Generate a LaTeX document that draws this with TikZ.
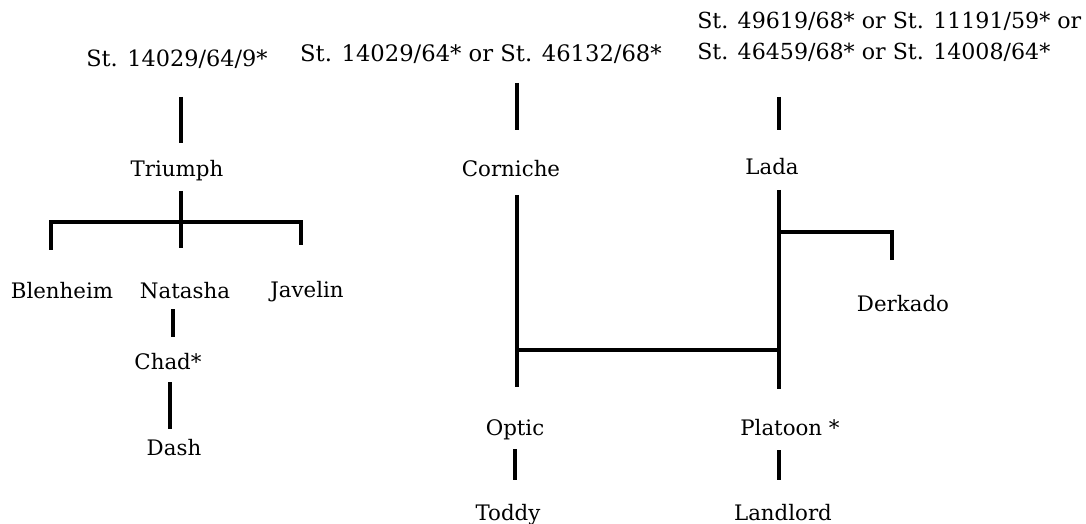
\documentclass[tikz,border=0pt]{standalone}
\usepackage{fontspec}
\setmainfont{DejaVu Serif}
\usetikzlibrary{calc}

\begin{document}
\begin{tikzpicture}[x=0.75pt, y=-0.75pt,
    bar/.style={line width=3.3pt},
    horse/.style={inner sep=0pt, anchor=base, font=\fontsize{16}{19}\selectfont},
    stud/.style={inner sep=0pt, anchor=base, font=\fontsize{16.8}{20}\selectfont}]
  \useasboundingbox (0,0) rectangle (1086,524);

  % Coordinates
  \coordinate (A) at (181, 97);
  \coordinate (B) at (181,143);
  \coordinate (C) at (181,191);
  \coordinate (D) at (181,248);
  \coordinate (E) at ( 51,250);
  \coordinate (F) at ( 51,222);
  \coordinate (G) at (301,222);
  \coordinate (H) at (301,245);
  \coordinate (I) at (173,309);
  \coordinate (J) at (173,337);
  \coordinate (K) at (170,382);
  \coordinate (L) at (170,429);
  \coordinate (M) at (517, 83);
  \coordinate (N) at (517,130);
  \coordinate (O) at (517,195);
  \coordinate (P) at (517,387);
  \coordinate (Q) at (517,350);
  \coordinate (R) at (779,350);
  \coordinate (S) at (515,449);
  \coordinate (T) at (515,480);
  \coordinate (U) at (779, 97);
  \coordinate (V) at (779,130);
  \coordinate (W) at (779,190);
  \coordinate (X) at (779,389);
  \coordinate (Y) at (779,232);
  \coordinate (Z) at (892,232);
  \coordinate (Z2) at (892,260);
  \coordinate (Z3) at (779,450);
  \coordinate (Z4) at (779,480);

  % Labels
  \node[stud] (st1) at (177,67) {St. 14029/64/9*};
  \node[stud, font=\fontsize{17}{20}\selectfont] (st2) at (481,62) {St. 14029/64* or St. 46132/68*};
  \node[stud, anchor=north west, align=left, font=\fontsize{16.6}{23.3}\selectfont] (st3) at (697,12)
    {St. 49619/68* or St. 11191/59* or\\St. 46459/68* or St. 14008/64*};
  \node[horse] (triumph) at (177,177) {Triumph};
  \node[horse] (blenheim) at (62,299) {Blenheim};
  \node[horse] (natasha) at (185,299) {Natasha};
  \node[horse] (javelin) at (307,297) {Javelin};
  \node[horse] (chad) at (168,369) {Chad*};
  \node[horse] (dash) at (174,455) {Dash};
  \node[horse] (corniche) at (511,177) {Corniche};
  \node[horse] (optic) at (515,435) {Optic};
  \node[horse] (toddy) at (508,520) {Toddy};
  \node[horse] (lada) at (772,175) {Lada};
  \node[horse] (derkado) at (903,311) {Derkado};
  \node[horse] (platoon) at (790,435) {Platoon *};
  \node[horse] (landlord) at (783,520) {Landlord};

  % Drawing
  \draw[bar] (A) -- (B);
  \draw[bar] (C) -- (D);
  \draw[bar] (E) -- (F) -- (G) -- (H);
  \draw[bar] (I) -- (J);
  \draw[bar] (K) -- (L);
  \draw[bar] (M) -- (N);
  \draw[bar] (O) -- (P);
  \draw[bar] (Q) -- (R);
  \draw[bar] (S) -- (T);
  \draw[bar] (U) -- (V);
  \draw[bar] (W) -- (X);
  \draw[bar] (Y) -- (Z) -- (Z2);
  \draw[bar] (Z3) -- (Z4);
\end{tikzpicture}
\end{document}
